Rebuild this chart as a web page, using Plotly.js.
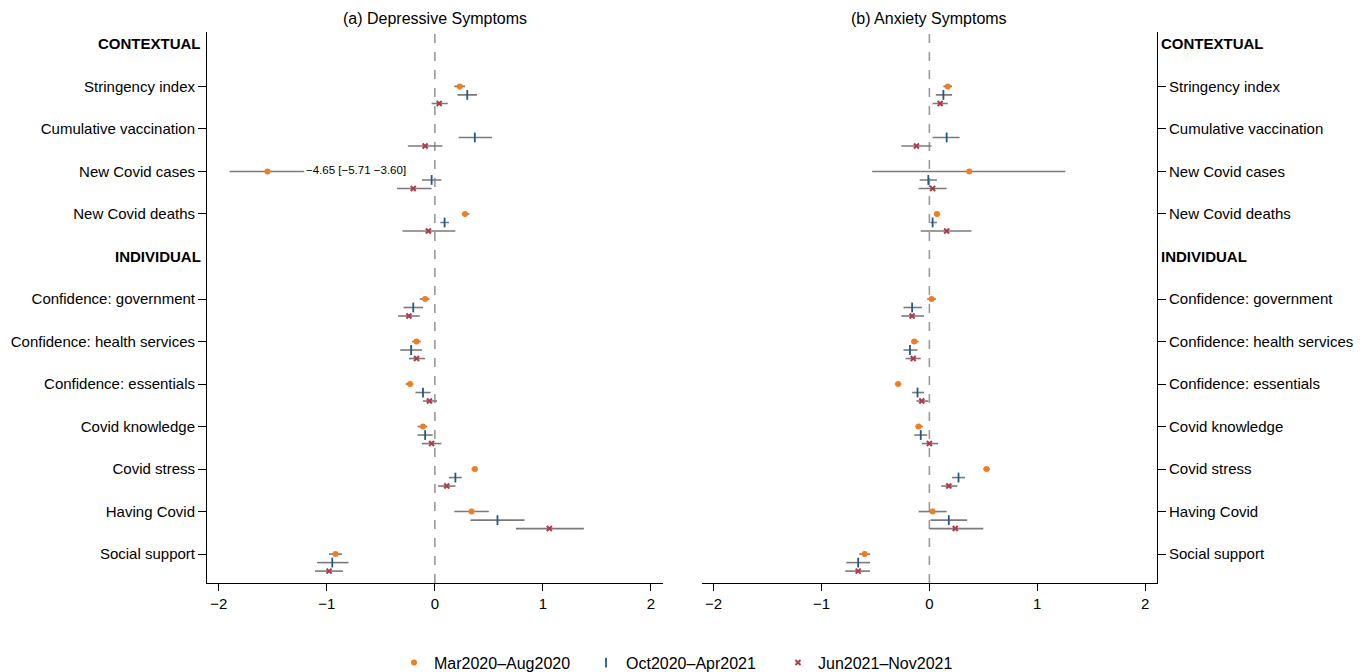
<!DOCTYPE html>
<html>
<head>
<meta charset="utf-8">
<script src="https://cdn.plot.ly/plotly-3.0.1.min.js"></script>
<style>html,body{margin:0;padding:0;background:#fff}#chart{width:1369px;height:672px}</style>
</head>
<body>
<div id="chart"></div>
<script>
// Rows (top to bottom); headers have no data
const rows = ['CONTEXTUAL','Stringency index','Cumulative vaccination','New Covid cases','New Covid deaths',
  'INDIVIDUAL','Confidence: government','Confidence: health services','Confidence: essentials',
  'Covid knowledge','Covid stress','Having Covid','Social support'];
const headers = ['CONTEXTUAL','INDIVIDUAL'];
const variables = ['Stringency index','Cumulative vaccination','New Covid cases','New Covid deaths',
  'Confidence: government','Confidence: health services','Confidence: essentials',
  'Covid knowledge','Covid stress','Having Covid','Social support'];
const seriesNames = ['Mar2020\u2013Aug2020','Oct2020\u2013Apr2021','Jun2021\u2013Nov2021'];

// (a) Depressive symptoms: estimate, lower, upper per series
const depP1 = [0.23, null, -1.55, 0.28, -0.09, -0.17, -0.23, -0.11, 0.37, 0.34, -0.92];
const depP1Lo = [0.18, null, -1.90, 0.25, -0.14, -0.21, -0.27, -0.16, 0.34, 0.18, -0.98];
const depP1Hi = [0.28, null, -1.21, 0.32, -0.05, -0.13, -0.20, -0.07, 0.40, 0.50, -0.86];
const depP2 = [0.30, 0.37, -0.03, 0.09, -0.20, -0.22, -0.11, -0.09, 0.19, 0.58, -0.95];
const depP2Lo = [0.21, 0.22, -0.12, 0.05, -0.29, -0.32, -0.18, -0.16, 0.13, 0.33, -1.09];
const depP2Hi = [0.39, 0.53, 0.06, 0.13, -0.11, -0.12, -0.04, -0.02, 0.25, 0.83, -0.80];
const depP3 = [0.04, -0.09, -0.20, -0.06, -0.24, -0.17, -0.05, -0.03, 0.11, 1.06, -0.98];
const depP3Lo = [-0.03, -0.25, -0.35, -0.30, -0.34, -0.24, -0.11, -0.12, 0.03, 0.75, -1.11];
const depP3Hi = [0.12, 0.07, -0.03, 0.19, -0.14, -0.09, 0.02, 0.06, 0.19, 1.38, -0.85];
const depNote = '\u22124.65 [\u22125.71 \u22123.60]';

// (b) Anxiety symptoms
const anxP1 = [0.17, null, 0.37, 0.07, 0.02, -0.14, -0.29, -0.10, 0.53, 0.03, -0.60];
const anxP1Lo = [0.13, null, -0.53, 0.05, -0.02, -0.17, -0.32, -0.13, 0.50, -0.10, -0.65];
const anxP1Hi = [0.21, null, 1.26, 0.10, 0.06, -0.10, -0.26, -0.06, 0.56, 0.16, -0.55];
const anxP2 = [0.13, 0.16, -0.01, 0.03, -0.16, -0.18, -0.11, -0.08, 0.27, 0.18, -0.66];
const anxP2Lo = [0.06, 0.03, -0.09, 0.01, -0.24, -0.24, -0.16, -0.14, 0.21, 0.01, -0.77];
const anxP2Hi = [0.21, 0.28, 0.07, 0.07, -0.07, -0.11, -0.05, -0.02, 0.33, 0.35, -0.55];
const anxP3 = [0.10, -0.12, 0.03, 0.16, -0.16, -0.15, -0.07, 0.00, 0.18, 0.24, -0.66];
const anxP3Lo = [0.03, -0.26, -0.10, -0.08, -0.26, -0.22, -0.12, -0.07, 0.11, 0.00, -0.78];
const anxP3Hi = [0.17, 0.02, 0.16, 0.39, -0.05, -0.08, -0.01, 0.08, 0.26, 0.50, -0.55];

const colors = ['#f07d1f', '#1f5a8a', '#b03a48'];
const offsets = [0, 0.2, 0.4];
const barColor = '#7a7a7a';

const rowIndex = variables.map(v => rows.indexOf(v));

function markerFor(i) {
  if (i === 0) return {symbol: 'circle', size: 6, color: colors[0]};
  if (i === 1) return {symbol: 'line-ns-open', size: 7, color: colors[1], line: {width: 1.8, color: colors[1]}};
  return {symbol: 'x-thin-open', size: 5, color: colors[2], line: {width: 2, color: colors[2]}};
}

function mkTrace(i, est, lo, hi, xa, ya, showleg) {
  return {
    type: 'scatter', mode: 'markers', name: seriesNames[i],
    x: est, y: rowIndex.map(r => r + offsets[i]),
    xaxis: xa, yaxis: ya, showlegend: showleg, legendgroup: 's' + i,
    marker: markerFor(i),
    error_x: {type: 'data', symmetric: false,
      array: est.map((e, k) => e === null ? null : hi[k] - e),
      arrayminus: est.map((e, k) => e === null ? null : e - lo[k]),
      color: barColor, thickness: 1.6, width: 0},
    cliponaxis: false, hoverinfo: 'x+y'
  };
}

const data = [
  mkTrace(0, depP1, depP1Lo, depP1Hi, 'x', 'y', true),
  mkTrace(1, depP2, depP2Lo, depP2Hi, 'x', 'y', true),
  mkTrace(2, depP3, depP3Lo, depP3Hi, 'x', 'y', true),
  mkTrace(0, anxP1, anxP1Lo, anxP1Hi, 'x2', 'y2', false),
  mkTrace(1, anxP2, anxP2Lo, anxP2Hi, 'x2', 'y2', false),
  mkTrace(2, anxP3, anxP3Lo, anxP3Hi, 'x2', 'y2', false)
];

const font = {family: 'Liberation Sans, Arial, sans-serif', size: 15, color: '#000'};
const xTicks = [-2, -1, 0, 1, 2];

const xBase = {range: [-2.11, 2.11], tickvals: xTicks, ticks: 'outside', ticklen: 7, tickwidth: 1,
  tickcolor: '#000', showline: true, linecolor: '#000', linewidth: 1, zeroline: false,
  showgrid: false, tickfont: {size: 15}, fixedrange: true};
const yBase = {range: [12.68, -0.28], tickvals: rowIndex, ticktext: variables, ticks: 'outside',
  ticklen: 8, tickwidth: 1, tickcolor: '#000', showline: true, linecolor: '#000', linewidth: 1,
  zeroline: false, showgrid: false, tickfont: {size: 15}, fixedrange: true};

const annotations = [
  {text: '(a) Depressive Symptoms', xref: 'x domain', yref: 'paper', x: 0.5, y: 1.024,
   xanchor: 'center', yanchor: 'middle', showarrow: false, font: {size: 16}},
  {text: '(b) Anxiety Symptoms', xref: 'x2 domain', yref: 'paper', x: 0.5, y: 1.024,
   xanchor: 'center', yanchor: 'middle', showarrow: false, font: {size: 16}},
  {text: depNote, xref: 'x', yref: 'y', x: depP1Hi[2], y: rows.indexOf('New Covid cases') - 0.04,
   xanchor: 'left', yanchor: 'middle', showarrow: false, font: {size: 11.5}}
];
headers.forEach(h => {
  annotations.push({text: '<b>' + h + '</b>', xref: 'x domain', yref: 'y', x: -0.009, y: rows.indexOf(h),
    xanchor: 'right', yanchor: 'middle', showarrow: false, font: {size: 15}});
  annotations.push({text: '<b>' + h + '</b>', xref: 'x2 domain', yref: 'y2', x: 1.004, y: rows.indexOf(h),
    xanchor: 'left', yanchor: 'middle', showarrow: false, font: {size: 15}});
});

const shapes = [
  {type: 'line', xref: 'x', yref: 'y domain', x0: 0, x1: 0, y0: 0, y1: 1,
   line: {color: '#9a9a9a', width: 1.6, dash: 'dash'}, layer: 'below'},
  {type: 'line', xref: 'x2', yref: 'y2 domain', x0: 0, x1: 0, y0: 0, y1: 1,
   line: {color: '#9a9a9a', width: 1.6, dash: 'dash'}, layer: 'below'}
];

const layout = {
  width: 1369, height: 672,
  margin: {l: 207, r: 212, t: 32, b: 89, autoexpand: false},
  paper_bgcolor: '#fff', plot_bgcolor: '#fff',
  font: font,
  showlegend: true,
  legend: {orientation: 'h', x: 0.5, xanchor: 'center', y: -0.1446, yanchor: 'middle',
    font: {size: 16}, itemwidth: 30, entrywidth: 147, traceorder: 'normal'},
  xaxis: Object.assign({}, xBase, {domain: [0, 0.4797], anchor: 'y'}),
  xaxis2: Object.assign({}, xBase, {domain: [0.5208, 1], anchor: 'y2'}),
  yaxis: Object.assign({}, yBase, {anchor: 'x', side: 'left'}),
  yaxis2: Object.assign({}, yBase, {anchor: 'x2', side: 'right'}),
  annotations: annotations,
  shapes: shapes
};

Plotly.newPlot('chart', data, layout, {displayModeBar: false, staticPlot: true});
</script>
</body>
</html>
